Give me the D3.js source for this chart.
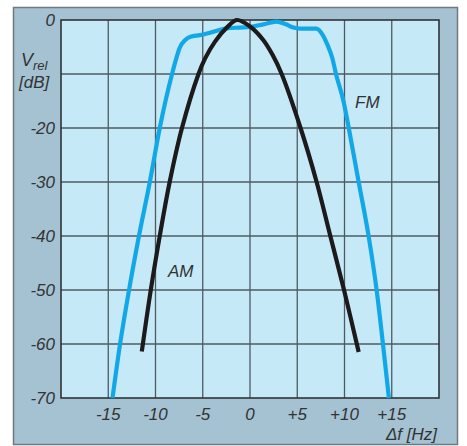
<!DOCTYPE html>
<html>
<head>
<meta charset="utf-8">
<script src="https://cdn.jsdelivr.net/npm/d3@7"></script>
<style>
  html, body { margin: 0; padding: 0; background: #ffffff; }
  svg { display: block; }
  text { font-family: "Liberation Sans", Arial, sans-serif; font-style: italic; fill: #333333; }
</style>
</head>
<body>
<svg id="chart" width="467" height="446"></svg>
<script>
// Frequency offset (Hz) and relative level (dB) for the two demodulator responses
const fmFreq = [-14.55, -13.75, -12.8, -11.75, -10.6, -9.55, -8.25, -7.8, -7.45, -6.85, -6.3, -5.3, -3.9, -2.5, -1.1, 0, 1.4, 2.8, 3.8, 4.6, 5.3, 7.0, 7.7, 8.2, 8.7, 9.1, 9.9, 10.45, 11.5, 12.55, 13.4, 14.07, 14.7];
const fmLevel = [-70, -60, -50, -40, -30, -20, -10, -7.1, -5.2, -3.7, -3.1, -2.8, -2.2, -1.55, -1.4, -1.3, -0.8, -0.3, -0.8, -1.4, -1.6, -1.6, -2.8, -4.6, -7, -10, -15.1, -20, -30, -40, -50, -60, -70];

const amFreq = [-11.45, -10.5, -9.55, -8.5, -7.2, -5.45, -4.75, -3.7, -2.5, -1.4, 0, 1.4, 2.4, 3.35, 5.35, 7.05, 8.5, 9.95, 11.5];
const amLevel = [-61.4, -50, -40, -30, -20, -10, -7.1, -4, -1.5, 0, -1.2, -3.7, -6.5, -10, -20, -30, -40, -50, -61.5];

const xTicks = [-15, -10, -5, 0, 5, 10, 15];
const xTickLabels = ["-15", "-10", "-5", "0", "+5", "+10", "+15"];
const yTicks = [0, -10, -20, -30, -40, -50, -60, -70];
const yTickLabels = ["0", "", "-20", "-30", "-40", "-50", "-60", "-70"];

const svg = d3.select("#chart");
const plot = { left: 61, top: 20, right: 439, bottom: 398 };

const x = d3.scaleLinear().domain([-20, 20]).range([plot.left, plot.right]);
const y = d3.scaleLinear().domain([-70, 0]).range([plot.bottom, plot.top]);

// outer panel
svg.append("rect")
  .attr("x", 13.5).attr("y", 7.5).attr("width", 444).attr("height", 437)
  .attr("fill", "#a4c2d2").attr("stroke", "#6f7a80").attr("stroke-width", 1.5);

// plot background
svg.append("rect")
  .attr("x", plot.left).attr("y", plot.top)
  .attr("width", plot.right - plot.left).attr("height", plot.bottom - plot.top)
  .attr("fill", "#c6e9f8");

// grid
const grid = svg.append("g").attr("stroke", "#4e5a62").attr("stroke-width", 1.3);
grid.selectAll("line.v").data(xTicks).join("line")
  .attr("x1", d => x(d)).attr("x2", d => x(d))
  .attr("y1", plot.top).attr("y2", plot.bottom);
grid.selectAll("line.h").data(yTicks.slice(1, -1)).join("line")
  .attr("x1", plot.left).attr("x2", plot.right)
  .attr("y1", d => y(d)).attr("y2", d => y(d));

// plot frame
svg.append("rect")
  .attr("x", plot.left).attr("y", plot.top)
  .attr("width", plot.right - plot.left).attr("height", plot.bottom - plot.top)
  .attr("fill", "none").attr("stroke", "#2f3438").attr("stroke-width", 1.6);

// curves
const fmLine = d3.line().curve(d3.curveMonotoneX)
  .x(d => x(d[0])).y(d => y(d[1]));
const amLine = d3.line().curve(d3.curveCatmullRom.alpha(0.5))
  .x(d => x(d[0])).y(d => y(d[1]));

svg.append("path")
  .datum(d3.zip(fmFreq, fmLevel))
  .attr("d", fmLine)
  .attr("fill", "none").attr("stroke", "#12a7e6").attr("stroke-width", 4.2)
  .attr("stroke-linejoin", "round");

svg.append("path")
  .datum(d3.zip(amFreq, amLevel))
  .attr("d", amLine)
  .attr("fill", "none").attr("stroke", "#1c1a1a").attr("stroke-width", 4.2)
  .attr("stroke-linejoin", "round");

// y tick labels
svg.append("g").selectAll("text").data(yTicks).join("text")
  .attr("x", 55).attr("y", d => y(d) + 6)
  .attr("text-anchor", "end")
  .attr("font-size", 17)
  .text((d, i) => yTickLabels[i]);

// x tick labels
svg.append("g").selectAll("text").data(xTicks).join("text")
  .attr("x", d => x(d)).attr("y", 420)
  .attr("text-anchor", "middle")
  .attr("font-size", 17)
  .text((d, i) => xTickLabels[i]);

// axis titles
const yTitle = svg.append("text").attr("x", 21).attr("y", 66).attr("font-size", 18);
yTitle.append("tspan").text("V");
yTitle.append("tspan").attr("font-size", 13).attr("dy", 4).text("rel");
svg.append("text").attr("x", 19).attr("y", 88).attr("font-size", 17).text("[dB]");

svg.append("text").attr("x", 437).attr("y", 440).attr("text-anchor", "end")
  .attr("font-size", 17).text("\u0394f [Hz]");

// series labels
svg.append("text").attr("x", 355).attr("y", 108).attr("font-size", 17).text("FM");
svg.append("text").attr("x", 168).attr("y", 277).attr("font-size", 17).text("AM");
</script>
</body>
</html>
